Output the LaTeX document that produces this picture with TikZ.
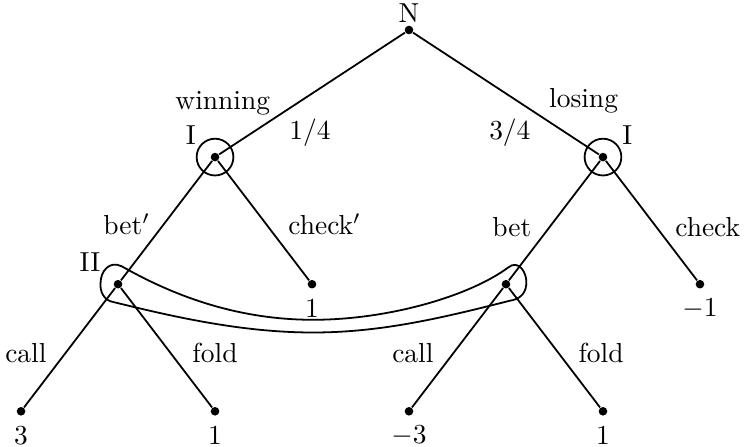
\documentclass[tikz,border=0pt]{standalone}
\usepackage{amsmath}
\usepackage{tikz}
\usetikzlibrary{positioning}
\tikzset{
    gameDot/.style={circle, fill=black, inner sep=0pt, minimum size=1.1mm},
    infoRing/.style={circle, draw=black, line width=0.65pt, inner sep=0pt, minimum size=4.7mm},
    branch/.style={line width=0.65pt}
}

\begin{document}
\begin{tikzpicture}[x=1.24cm, y=1.625cm]
    \useasboundingbox (-4.217,0.236) rectangle (3.485,-3.276);
    % --- chance move ---
    \node[gameDot] (root) at (0,0) {};
    \node (lblN) at (0,0.135) {N};
    % --- player I ---
    \node[gameDot] (iWin) at (-2,-1) {};
    \node[gameDot] (iLose) at (2,-1) {};
    \node[infoRing] (ringWin) at (iWin) {};
    \node[infoRing] (ringLose) at (iLose) {};
    \node (lblIWin) at (-2.25,-0.83) {I};
    \node (lblILose) at (2.25,-0.83) {I};
    \node (lblWin) at (-1.92,-0.575) {winning};
    \node (lblLose) at (1.80,-0.56) {losing};
    \node (lblPW) at (-1.02,-0.81) {1/4};
    \node (lblPL) at (1.04,-0.81) {3/4};
    \draw[branch] (root) -- (iWin);
    \draw[branch] (root) -- (iLose);
    % --- player II ---
    \node[gameDot] (iiWin) at (-3,-2) {};
    \node[gameDot] (chkWin) at (-1,-2) {};
    \node[gameDot] (iiLose) at (1,-2) {};
    \node[gameDot] (chkLose) at (3,-2) {};
    \node[below=0pt of chkWin] (payChkWin) {1};
    \node[below=0pt of chkLose] (payChkLose) {$-1$};
    \node (lblII) at (-3.29,-1.83) {II};
    \node (lblBetW) at (-2.91,-1.53) {bet$'$};
    \node (lblChkW) at (-0.87,-1.53) {check$'$};
    \node (lblBetL) at (1.06,-1.55) {bet};
    \node (lblChkL) at (3.08,-1.55) {check};
    \draw[branch] (iWin) -- (iiWin);
    \draw[branch] (iWin) -- (chkWin);
    \draw[branch] (iLose) -- (iiLose);
    \draw[branch] (iLose) -- (chkLose);
    \draw[branch] (-2.96,-1.86) .. controls (-2.52,-2.05) and (-1.85,-2.28) .. (-0.99,-2.28)
        .. controls (-0.20,-2.28) and (0.63,-2.09) .. (1.02,-1.87)
        .. controls (1.13,-1.80) and (1.22,-1.91) .. (1.21,-2.00)
        .. controls (1.20,-2.09) and (1.12,-2.12) .. (1.04,-2.13)
        .. controls (0.32,-2.27) and (-0.30,-2.38) .. (-0.99,-2.38)
        .. controls (-1.74,-2.38) and (-2.46,-2.25) .. (-3.05,-2.14)
        .. controls (-3.14,-2.13) and (-3.19,-2.06) .. (-3.18,-1.99)
        .. controls (-3.18,-1.90) and (-3.09,-1.81) .. (-2.96,-1.86) -- cycle;
    % --- leaves ---
    \node[gameDot] (callWin) at (-4,-3) {};
    \node[gameDot] (foldWin) at (-2,-3) {};
    \node[gameDot] (callLose) at (0,-3) {};
    \node[gameDot] (foldLose) at (2,-3) {};
    \node[below=0pt of callWin] (payCallWin) {3};
    \node[below=0pt of foldWin] (payFoldWin) {1};
    \node[below=0pt of callLose] (payCallLose) {$-3$};
    \node[below=0pt of foldLose] (payFoldLose) {1};
    \node (lblCallW) at (-3.95,-2.54) {call};
    \node (lblFoldW) at (-2.0,-2.54) {fold};
    \node (lblCallL) at (0.04,-2.54) {call};
    \node (lblFoldL) at (1.98,-2.54) {fold};
    \draw[branch] (iiWin) -- (callWin);
    \draw[branch] (iiWin) -- (foldWin);
    \draw[branch] (iiLose) -- (callLose);
    \draw[branch] (iiLose) -- (foldLose);
\end{tikzpicture}
\end{document}
